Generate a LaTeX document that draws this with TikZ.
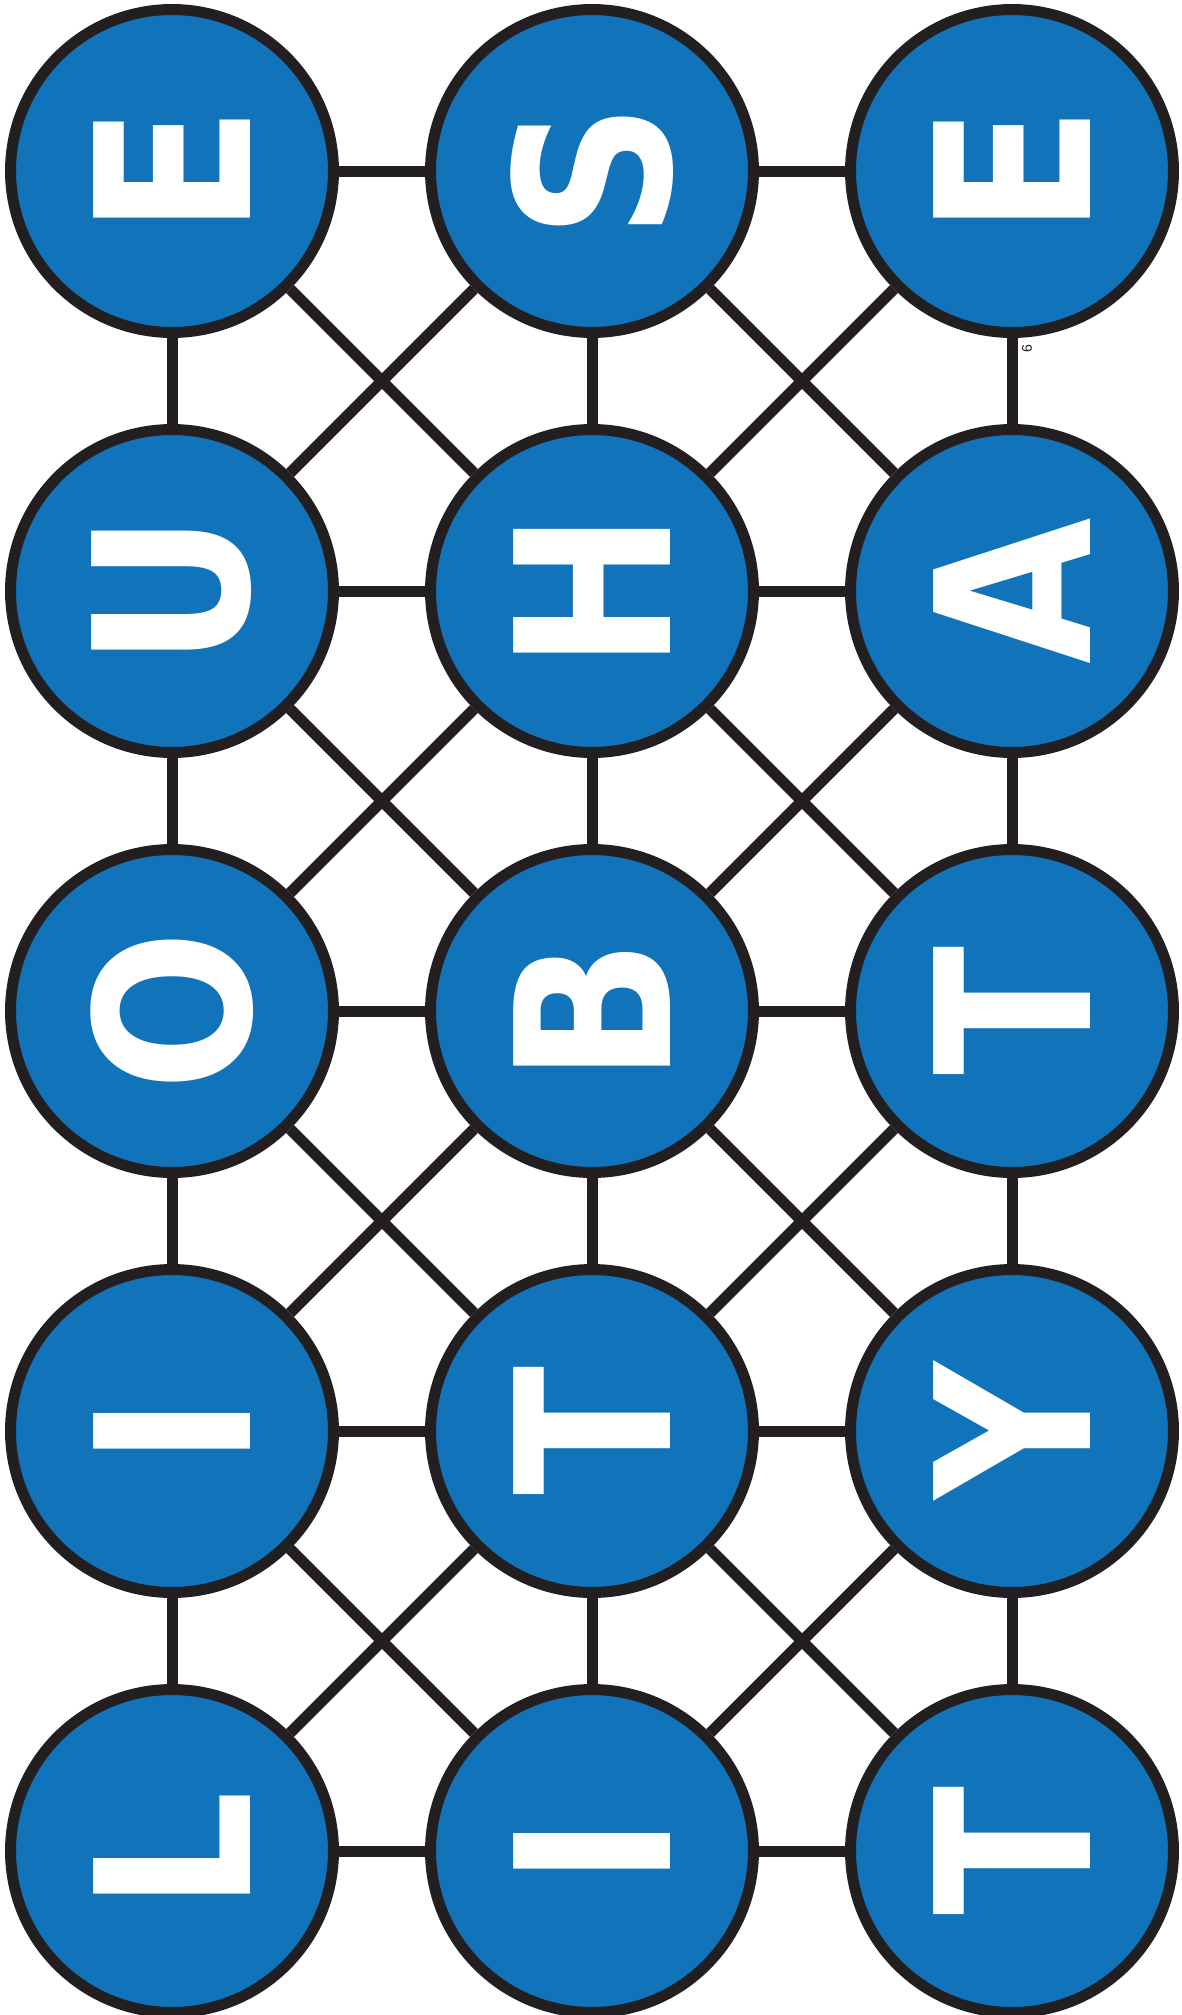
\documentclass[tikz,border=0pt]{standalone}
\usepackage{fontspec}
\setmainfont{Liberation Sans}
\newfontfamily\tilefont{DejaVu Sans}
\usetikzlibrary{positioning}
\definecolor{tileblue}{RGB}{17,116,187}
\definecolor{inkline}{RGB}{35,31,32}

\begin{document}
\begin{tikzpicture}[x=0.02cm,y=-0.02cm,
  ball/.style={circle,draw=inkline,fill=tileblue,line width=0.22cm,minimum size=6.46cm,inner sep=0pt,text=white,font=\tilefont\fontsize{122.5}{123}\selectfont\bfseries},
  link/.style={draw=inkline,line width=0.22cm}]
\useasboundingbox (0,0) rectangle (1182,2015);
% letter tiles: 5 rows of 3, letters turned a quarter left
\foreach \r/\a/\b/\c in {1/E/S/E,2/U/H/A,3/O/B/T,4/I/T/Y,5/L/I/T}{
 \node[ball] (t\r-1) at (172,{171+420*(\r-1)}) {\rotatebox{90}{\scalebox{0.88}[1]{\a}}};
 \node[ball] (t\r-2) at (592,{171+420*(\r-1)}) {\rotatebox{90}{\scalebox{0.88}[1]{\b}}};
 \node[ball] (t\r-3) at (1012,{171+420*(\r-1)}) {\rotatebox{90}{\scalebox{0.88}[1]{\c}}};}
% horizontal links
\foreach \r in {1,...,5}{\draw[link] (t\r-1) -- (t\r-2) (t\r-2) -- (t\r-3);}
% vertical and diagonal links
\foreach \r/\s in {1/2,2/3,3/4,4/5}{
 \draw[link] (t\r-1) -- (t\s-1) (t\r-2) -- (t\s-2) (t\r-3) -- (t\s-3);
 \draw[link] (t\r-1) -- (t\s-2) (t\r-2) -- (t\s-1) (t\r-2) -- (t\s-3) (t\r-3) -- (t\s-2);}
\node[rotate=90,text=inkline,font=\fontsize{8}{8}\selectfont,inner sep=0pt] (pgno) at (1027,349) {6};
\end{tikzpicture}
\end{document}
